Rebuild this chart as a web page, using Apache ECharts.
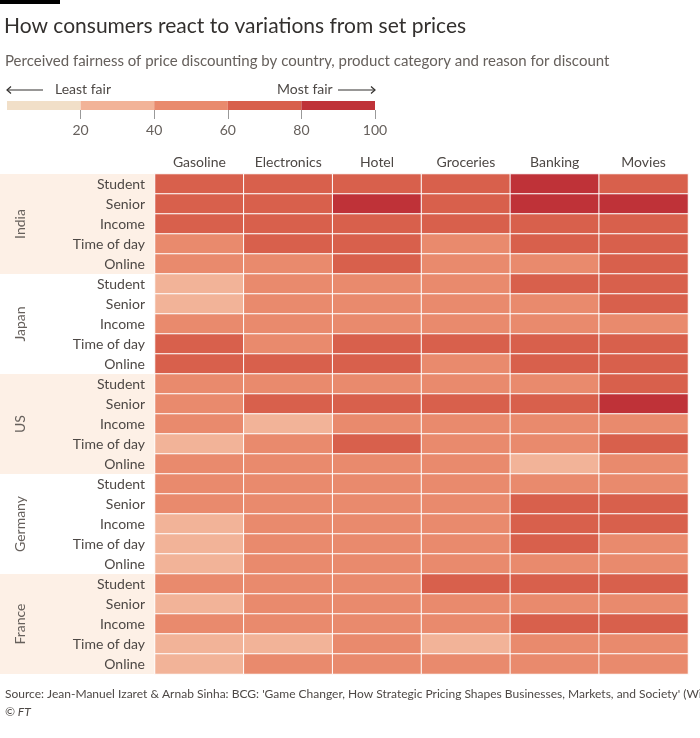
<!DOCTYPE html>
<html>
<head>
<meta charset="utf-8">
<script src="https://cdn.jsdelivr.net/npm/echarts@6/dist/echarts.min.js"></script>
<style>
html,body{margin:0;padding:0;background:#fff;}
#chart{width:700px;height:738px;}
</style>
</head>
<body>
<div id="chart"></div>
<script>
// ---------- data ----------
const products = ['Gasoline', 'Electronics', 'Hotel', 'Groceries', 'Banking', 'Movies'];
const reasons = ['Student', 'Senior', 'Income', 'Time of day', 'Online'];
const countries = ['India', 'Japan', 'US', 'Germany', 'France'];

// perceived fairness scores (0-100), rows = reasons, cols = products
const india = [
  [70, 70, 70, 70, 90, 70],
  [70, 70, 90, 70, 90, 90],
  [70, 70, 70, 70, 70, 70],
  [50, 70, 70, 50, 70, 70],
  [50, 50, 70, 50, 50, 70]
];
const japan = [
  [30, 50, 50, 50, 70, 70],
  [30, 50, 50, 50, 50, 70],
  [50, 50, 50, 50, 50, 50],
  [70, 50, 70, 70, 70, 70],
  [70, 70, 70, 50, 70, 70]
];
const us = [
  [50, 50, 50, 50, 50, 70],
  [50, 70, 70, 70, 70, 90],
  [50, 30, 50, 50, 50, 50],
  [30, 50, 70, 50, 50, 70],
  [50, 50, 50, 50, 30, 50]
];
const germany = [
  [50, 50, 50, 50, 50, 50],
  [50, 50, 50, 50, 70, 70],
  [30, 50, 50, 50, 70, 70],
  [30, 50, 50, 50, 70, 50],
  [30, 50, 50, 50, 50, 50]
];
const france = [
  [50, 50, 50, 70, 70, 70],
  [30, 50, 50, 50, 50, 50],
  [50, 50, 50, 50, 70, 70],
  [30, 30, 50, 30, 50, 50],
  [30, 50, 50, 50, 50, 50]
];
const countryValues = [india, japan, us, germany, france];

const legendBreaks = [0, 20, 40, 60, 80, 100];
const legendTicks = [20, 40, 60, 80, 100];
const binColors = ['#f1dfc8', '#f2b398', '#e98a6d', '#d8604c', '#bf3238'];

// ---------- build ----------
const rowLabels = [];
const heatData = [];
countries.forEach((c, ci) => {
  reasons.forEach((r, ri) => {
    const rowIdx = ci * reasons.length + ri;
    rowLabels.push(r);
    countryValues[ci][ri].forEach((v, pi) => heatData.push([pi, rowIdx, v]));
  });
});

const pieces = [];
for (let i = 0; i < binColors.length; i++) {
  pieces.push({ gte: legendBreaks[i], lt: legendBreaks[i + 1], color: binColors[i] });
}
pieces[pieces.length - 1].lte = 100; delete pieces[pieces.length - 1].lt;

const legendSeries = binColors.map((col, i) => ({
  type: 'bar', xAxisIndex: 1, yAxisIndex: 2, stack: 'leg', barWidth: '100%',
  silent: true, itemStyle: { color: col },
  data: [legendBreaks[i + 1] - legendBreaks[i]]
}));

const FONT = 'Lato';
const chart = echarts.init(document.getElementById('chart'));
chart.setOption({
  animation: false,
  textStyle: { fontFamily: FONT },
  title: [
    { text: 'How consumers react to variations from set prices', left: -1, top: 11,
      textStyle: { fontFamily: FONT, fontSize: 21, fontWeight: 'normal', color: '#33302e' } },
    { text: 'Perceived fairness of price discounting by country, product category and reason for discount', left: 0, top: 49,
      textStyle: { fontFamily: FONT, fontSize: 15, fontWeight: 'normal', color: '#66605c' } },
    { text: 'Least fair', left: 50, top: 77,
      textStyle: { fontFamily: FONT, fontSize: 14, fontWeight: 'normal', color: '#4d4845' } },
    { text: 'Most fair', left: 272, top: 77,
      textStyle: { fontFamily: FONT, fontSize: 14, fontWeight: 'normal', color: '#4d4845' } },
    { text: "Source: Jean-Manuel Izaret & Arnab Sinha: BCG: 'Game Changer, How Strategic Pricing Shapes Businesses, Markets, and Society' (Wiley)", left: 0, top: 683,
      textStyle: { fontFamily: FONT, fontSize: 12, fontWeight: 'normal', color: '#4d4845' } },
    { text: '© FT', left: 0, top: 701,
      textStyle: { fontFamily: FONT, fontSize: 12, fontWeight: 'normal', fontStyle: 'italic', color: '#4d4845' } }
  ],
  grid: [
    { left: 155, top: 174, width: 533, height: 500 },
    { left: 7, top: 101, width: 368, height: 9 }
  ],
  xAxis: [
    { type: 'category', data: products, position: 'top', gridIndex: 0,
      axisLine: { show: false }, axisTick: { show: false },
      axisLabel: { color: '#4d4845', fontSize: 14, margin: 5 } },
    { type: 'value', gridIndex: 1, min: 0, max: 100, interval: 20,
      axisLine: { show: false }, splitLine: { show: false },
      axisTick: { show: true, length: 9, lineStyle: { color: '#999' }, customValues: legendTicks },
      axisLabel: { color: '#66605c', fontSize: 14, margin: 13, customValues: legendTicks } }
  ],
  yAxis: [
    { type: 'category', data: rowLabels, inverse: true, gridIndex: 0,
      axisLine: { show: false }, axisTick: { show: false },
      axisLabel: { color: '#4d4845', fontSize: 14, margin: 10 } },
    { type: 'category', data: countries, inverse: true, gridIndex: 0, position: 'left',
      axisLine: { show: false }, axisTick: { show: false },
      axisLabel: { color: '#66605c', fontSize: 14, rotate: 90, margin: 128 } },
    { type: 'category', data: ['scale'], gridIndex: 1, show: false }
  ],
  visualMap: {
    type: 'piecewise', show: false, seriesIndex: 0, dimension: 2, pieces: pieces
  },
  series: [
    { type: 'heatmap', xAxisIndex: 0, yAxisIndex: 0, data: heatData,
      itemStyle: { borderColor: '#fff', borderWidth: 1 } }
  ].concat(legendSeries)
});

// background bands for alternating countries + arrows
function drawExtras() {
  const g = [];
  const gridRight = chart.convertToPixel({ xAxisIndex: 0 }, products.length - 1) + 44;
  countries.forEach((c, ci) => {
    if (ci % 2 !== 0) return;
    const first = chart.convertToPixel({ gridIndex: 0 }, [0, ci * reasons.length])[1];
    const last = chart.convertToPixel({ gridIndex: 0 }, [0, ci * reasons.length + reasons.length - 1])[1];
    const half = (last - first) / (reasons.length - 1) / 2;
    g.push({ type: 'rect', z: -10, silent: true,
      shape: { x: 0, y: first - half, width: gridRight, height: last - first + 2 * half },
      style: { fill: '#fdf0e6' } });
  });
  g.push({ type: 'rect', shape: { x: 0, y: 0, width: 60, height: 4 }, style: { fill: '#000' } });
  const x0 = chart.convertToPixel({ xAxisIndex: 1 }, 0);
  const x100 = chart.convertToPixel({ xAxisIndex: 1 }, 100);
  const ay = 90;
  g.push({ type: 'polyline', shape: { points: [[x0 + 36, ay], [x0, ay]] }, style: { stroke: '#33302e', lineWidth: 1.2, fill: null } });
  g.push({ type: 'polyline', shape: { points: [[x0 + 4, ay - 3.5], [x0, ay], [x0 + 4, ay + 3.5]] }, style: { stroke: '#33302e', lineWidth: 1.2, fill: null } });
  g.push({ type: 'polyline', shape: { points: [[x100 - 37, ay], [x100, ay]] }, style: { stroke: '#33302e', lineWidth: 1.2, fill: null } });
  g.push({ type: 'polyline', shape: { points: [[x100 - 4, ay - 3.5], [x100, ay], [x100 - 4, ay + 3.5]] }, style: { stroke: '#33302e', lineWidth: 1.2, fill: null } });
  chart.setOption({ graphic: g });
}
drawExtras();
</script>
</body>
</html>
